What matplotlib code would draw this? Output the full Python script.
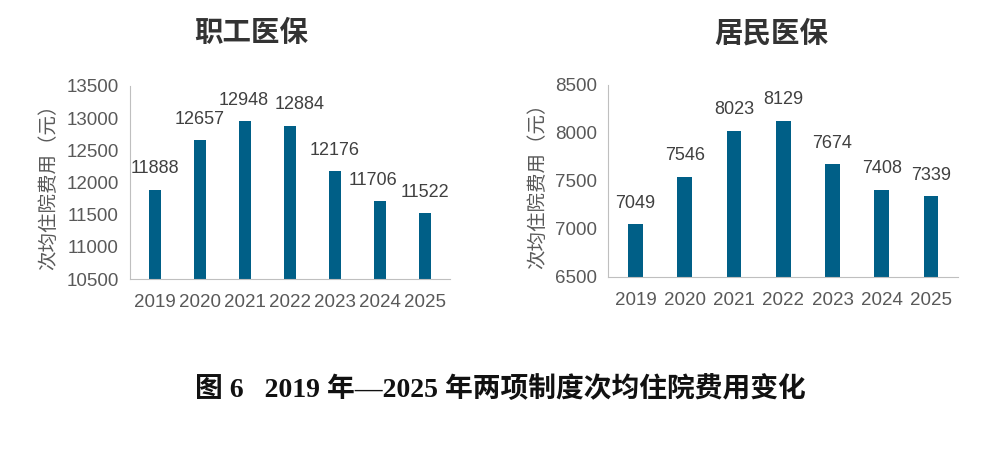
import matplotlib
matplotlib.use('Agg')
import matplotlib.pyplot as plt

plt.rcParams['font.family'] = ['Liberation Sans', 'Noto Sans CJK SC', 'DejaVu Sans']

years = ['2019', '2020', '2021', '2022', '2023', '2024', '2025']
zhigong = [11888, 12657, 12948, 12884, 12176, 11706, 11522]
jumin = [7049, 7546, 8023, 8129, 7674, 7408, 7339]

bar_color = '#005f87'
gray = '#595959'

fig = plt.figure(figsize=(9.99, 4.54), dpi=100)

def draw(ax, vals, ymin, ymax, step, width, nudge=None):
    x = range(len(years))
    ax.bar(x, vals, width=width, color=bar_color, zorder=2)
    ax.set_ylim(ymin, ymax)
    ax.set_xlim(-0.55, len(years) - 0.45)
    ax.set_yticks(range(ymin, ymax + 1, step))
    ax.set_xticks(list(x))
    ax.set_xticklabels(years)
    ax.tick_params(axis='both', length=0, labelsize=13.5, colors=gray)
    ax.tick_params(axis='x', pad=11)
    ax.tick_params(axis='y', pad=8)
    for s in ['top', 'right']:
        ax.spines[s].set_visible(False)
    ax.spines['left'].set_color('#bfbfbf')
    ax.spines['bottom'].set_color('#bfbfbf')
    ax.set_ylabel('次均住院费用（元）', fontsize=14, color=gray, labelpad=6)
    # labels nudged sideways a bit where they would collide (as in the original)
    nudge = nudge or {}
    for i, v in enumerate(vals):
        ax.annotate(str(v), (i, v), xytext=(nudge.get(i, 0), 9), textcoords='offset points',
                    ha='center', va='bottom', fontsize=13, color='#404040')

ax1 = fig.add_axes([0.130, 0.385, 0.320, 0.426])
draw(ax1, zhigong, 10500, 13500, 500, 0.27, nudge={2: -1, 3: 7, 5: -5})

ax2 = fig.add_axes([0.609, 0.390, 0.350, 0.423])
draw(ax2, jumin, 6500, 8500, 500, 0.3)

fig.text(0.251, 0.926, '职工医保', ha='center', va='center', fontsize=20.5,
         fontweight='bold', color='#333333')
fig.text(0.772, 0.926, '居民医保', ha='center', va='center', fontsize=20.5,
         fontweight='bold', color='#333333')

fig.text(0.501, 0.142, '图 6   2019 年—2025 年两项制度次均住院费用变化',
         ha='center', va='center', fontsize=20, fontweight='bold',
         family=['Liberation Serif', 'Noto Sans CJK SC'], color='#111111')

fig.savefig('out.png', dpi=100)
